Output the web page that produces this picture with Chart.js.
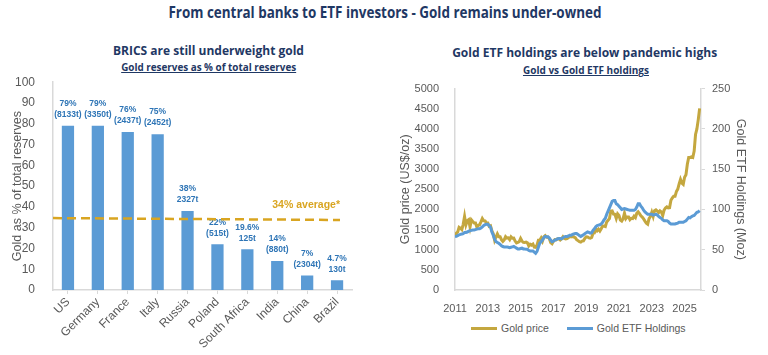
<!DOCTYPE html>
<html><head><meta charset="utf-8">
<script src="https://cdn.jsdelivr.net/npm/chart.js@4.4.1/dist/chart.umd.min.js"></script>
<style>
html,body{margin:0;padding:0;background:#fff;}
body{width:768px;height:355px;position:relative;overflow:hidden;font-family:"Open Sans",sans-serif;}
.t{position:absolute;white-space:nowrap;color:#1F3864;font-weight:700;transform-origin:center center;line-height:1;left:0;top:0;}
.u{text-decoration:underline;}
canvas{position:absolute;}
#legend{position:absolute;left:471px;top:321px;height:14px;display:flex;align-items:center;font-family:"Liberation Sans",sans-serif;font-size:10.5px;color:#595959;white-space:nowrap;}
#legend .item{display:flex;align-items:center;margin-right:18px;}
#legend .swatch{display:inline-block;width:26px;height:3px;margin-right:4px;}
</style></head><body>
<div id="mainTitle" class="t" style="font-size:16px">From central banks to ETF investors - Gold remains under-owned</div>
<div id="lTitle" class="t" style="font-size:12px">BRICS are still underweight gold</div>
<div id="lSub" class="t u" style="font-size:10px">Gold reserves as % of total reserves</div>
<div id="rTitle" class="t" style="font-size:12.5px">Gold ETF holdings are below pandemic highs</div>
<div id="rSub" class="t u" style="font-size:10px">Gold vs Gold ETF holdings</div>
<canvas id="left" width="384" height="290" style="left:0;top:65px;width:384px;height:290px"></canvas>
<canvas id="right" width="384" height="246" style="left:384px;top:74px;width:384px;height:246px"></canvas>
<div id="legend"></div>
<script>
// ---------- Left chart data ----------
const countries = ['US','Germany','France','Italy','Russia','Poland','South Africa','India','China','Brazil'];
const goldSharePct = [79, 79, 76, 75, 38, 22, 19.6, 14, 7, 4.7];
const shareLabels = ['79%','79%','76%','75%','38%','22%','19.6%','14%','7%','4.7%'];
const tonnesLabels = ['(8133t)','(3350t)','(2437t)','(2452t)','2327t','(515t)','125t','(880t)','(2304t)','130t'];
const averageShare = [34.6, 33.7];   // dashed average line, start and end value
const averageLabel = '34% average*';

// ---------- Right chart data (monthly, Jan 2011 - Dec 2025) ----------
const startYear = 2011;
const goldPrice = [
  1340,1410,1440,1555,1535,1500,1630,1825,1620,1720,1745,1565,
  1740,1700,1665,1665,1560,1605,1620,1690,1775,1720,1715,1665,
  1665,1580,1595,1470,1395,1235,1315,1395,1325,1325,1250,1205,
  1245,1325,1290,1295,1250,1320,1285,1290,1215,1170,1185,1200,
  1280,1215,1185,1180,1190,1170,1095,1135,1115,1140,1065,1060,
  1115,1235,1235,1290,1215,1320,1350,1310,1315,1275,1175,1150,
  1210,1250,1245,1270,1270,1240,1270,1320,1280,1270,1275,1300,
  1345,1320,1325,1315,1300,1250,1225,1200,1190,1215,1220,1280,
  1320,1315,1295,1285,1305,1410,1415,1520,1470,1510,1465,1520,
  1590,1585,1575,1690,1730,1770,1960,1965,1885,1880,1775,1890,
  1850,1735,1710,1770,1905,1770,1815,1815,1745,1780,1775,1830,
  1795,1905,1940,1895,1840,1810,1765,1710,1660,1635,1770,1825,
  1930,1825,1970,1990,1960,1920,1965,1940,1850,1985,2035,2065,
  2040,2045,2230,2285,2325,2325,2445,2505,2635,2745,2655,2625,
  2800,2860,3120,3290,3290,3305,3290,3450,3860,4000,4230,4510
];
const etfHoldings = [
  66.5,66.8,67.5,68.5,69,69.5,70,71.5,71.5,72,73,73.5,
  74,74.5,74.5,75,75.5,76,76,77,78.5,80,81,81.5,
  81.5,80,78,72,68,63,60,59,58,56.5,55,54,
  53.5,53.5,53.5,53,52.5,53,53.5,54,53,52,51,51,
  51.5,52,51,51,50.5,50.5,49,48.5,48.5,48.5,47,45.5,
  48,53,58,60,62,65,66.5,66,66,64.5,62,60,
  60.5,62,62.5,63.5,64,64,63.5,65,66,66.5,66.5,67,
  68,68,69,69.5,70,70,69,67.5,66.5,67.5,68.5,70,
  71,72,71.5,70.5,71,74,76,78.5,80,80.5,81,82,
  84,87,89,94,98,102,106,110,111,111,107,106,
  104,102,100,100.5,101,100.5,100,99.5,99,99,99,99,
  100,103,107,107,104,102,99,97,95.5,94,94,94,
  94,93,93.5,94,93,91.5,90,89,87,86,86,86,
  85,83,82,82,82,82,82.5,83,84,84,84,84,
  85,86,88,90,89.5,91,92,92.5,94.5,96.5,97,98.5
];
const tickYears = [2011, 2013, 2015, 2017, 2019, 2021, 2023, 2025];
const seriesNames = ['Gold price', 'Gold ETF Holdings'];

// ---------- Styles ----------
const GREY = '#595959';
const AXIS = '#D9D9D9';
const BLUE = '#5B9BD5';
const GOLD = '#C4A73F';
const LABEL_BLUE = '#2E75B6';
const AVG_GOLD = '#D9A521';
const TICKFONT = 'Liberation Sans';
const seriesColors = [GOLD, BLUE];

function placeTitle(id, cx, cy, w) {
  const el = document.getElementById(id);
  el.style.transform = 'none';
  const r = el.getBoundingClientRect();
  el.style.left = (cx - r.width / 2) + 'px';
  el.style.top = (cy - r.height / 2) + 'px';
  el.style.transform = 'scaleX(' + (w / r.width) + ')';
}
function layoutTitles() {
  placeTitle('mainTitle', 384.5, 12, 433);
  placeTitle('lTitle', 208.5, 51, 191);
  placeTitle('lSub', 208.3, 66.5, 175);
  placeTitle('rTitle', 585, 53.5, 265);
  placeTitle('rSub', 586, 70, 126);
}
layoutTitles();
if (document.fonts && document.fonts.ready) document.fonts.ready.then(layoutTitles);

// HTML legend built from the series names/colours
const legendEl = document.getElementById('legend');
seriesNames.forEach((name, i) => {
  const item = document.createElement('div');
  item.className = 'item';
  const sw = document.createElement('span');
  sw.className = 'swatch';
  sw.style.background = seriesColors[i];
  const tx = document.createElement('span');
  tx.textContent = name;
  item.appendChild(sw);
  item.appendChild(tx);
  legendEl.appendChild(item);
});

const barLabelsPlugin = {
  id: 'barLabels',
  afterDatasetsDraw(chart) {
    const ctx = chart.ctx;
    const meta = chart.getDatasetMeta(0);
    ctx.save();
    ctx.fillStyle = LABEL_BLUE;
    ctx.font = 'bold 8.5px "' + TICKFONT + '"';
    ctx.textAlign = 'center';
    ctx.textBaseline = 'middle';
    meta.data.forEach((bar, i) => {
      ctx.fillText(shareLabels[i], bar.x, bar.y - 22);
      ctx.fillText(tonnesLabels[i], bar.x, bar.y - 11);
    });
    ctx.restore();
  }
};

const averagePlugin = {
  id: 'averageLine',
  afterDatasetsDraw(chart) {
    const {ctx, chartArea, scales} = chart;
    const y = scales.y;
    const x0 = chartArea.left;
    const x1 = chartArea.right - 12;
    const y0 = y.getPixelForValue(averageShare[0]);
    const y1 = y.getPixelForValue(averageShare[1]);
    ctx.save();
    ctx.setLineDash([9, 5]);
    ctx.lineWidth = 2.5;
    ctx.strokeStyle = AVG_GOLD;
    ctx.beginPath();
    ctx.moveTo(x0, y0);
    ctx.lineTo(x1, y1);
    ctx.stroke();
    ctx.setLineDash([]);
    ctx.fillStyle = AVG_GOLD;
    ctx.font = 'bold 10.5px "' + TICKFONT + '"';
    ctx.textAlign = 'right';
    ctx.textBaseline = 'middle';
    ctx.fillText(averageLabel, x1, y1 - 15);
    ctx.restore();
  }
};

new Chart(document.getElementById('left'), {
  type: 'bar',
  data: {
    labels: countries,
    datasets: [{
      data: goldSharePct,
      backgroundColor: BLUE,
      borderWidth: 0,
      barPercentage: 0.82,
      categoryPercentage: 0.5
    }]
  },
  options: {
    responsive: false,
    animation: false,
    devicePixelRatio: 1,
    layout: { padding: { left: 6, right: 32, top: 1, bottom: 0 } },
    plugins: { legend: { display: false }, tooltip: { enabled: false } },
    scales: {
      x: {
        grid: { display: true, drawOnChartArea: false, offset: false, tickLength: 4, color: AXIS },
        border: { color: AXIS, width: 1.5 },
        ticks: { minRotation: 45, maxRotation: 45, color: GREY, padding: 1, font: { family: TICKFONT, size: 12 } },
        afterFit: s => { s.height = 65; }
      },
      y: {
        min: 0, max: 100,
        grid: { display: false },
        border: { color: AXIS, width: 1.5 },
        ticks: { stepSize: 10, color: GREY, padding: 10, font: { family: TICKFONT, size: 12 } },
        title: { display: true, text: 'Gold as % of total reserves', color: GREY, font: { family: TICKFONT, size: 12.5 }, padding: { top: 4, bottom: 4 } },
        afterFit: s => { s.width = 47; }
      }
    }
  },
  plugins: [barLabelsPlugin, averagePlugin]
});

const monthDates = goldPrice.map((_, i) => startYear + i / 12);

new Chart(document.getElementById('right'), {
  type: 'line',
  data: {
    datasets: [
      {
        label: seriesNames[1],
        data: etfHoldings.map((v, i) => ({ x: monthDates[i], y: v })),
        yAxisID: 'y2',
        borderColor: BLUE,
        backgroundColor: BLUE,
        borderWidth: 3,
        pointRadius: 0,
        tension: 0
      },
      {
        label: seriesNames[0],
        data: goldPrice.map((v, i) => ({ x: monthDates[i], y: v })),
        yAxisID: 'y',
        borderColor: GOLD,
        backgroundColor: GOLD,
        borderWidth: 3,
        pointRadius: 0,
        tension: 0
      }
    ]
  },
  options: {
    responsive: false,
    animation: false,
    devicePixelRatio: 1,
    layout: { padding: { left: 10, right: 16, top: 2, bottom: 0 } },
    plugins: {
      tooltip: { enabled: false },
      legend: { display: false }
    },
    scales: {
      x: {
        type: 'linear',
        min: 2011, max: 2026,
        grid: { display: false },
        border: { color: AXIS, width: 1.5 },
        ticks: {
          stepSize: 1, color: GREY, padding: 4, maxRotation: 0, autoSkip: false,
          font: { family: TICKFONT, size: 11 },
          callback: v => (tickYears.includes(v) ? String(v) : null)
        },
        afterFit: s => { s.height = 30; }
      },
      y: {
        position: 'left',
        min: 0, max: 5000,
        grid: { display: false },
        border: { color: AXIS, width: 1.5 },
        ticks: { stepSize: 500, color: GREY, padding: 8, font: { family: TICKFONT, size: 11 }, callback: v => String(v) },
        title: { display: true, text: 'Gold price (US$/oz)', color: GREY, font: { family: TICKFONT, size: 12.5 }, padding: { top: 4, bottom: 4 } },
        afterFit: s => { s.width = 61; }
      },
      y2: {
        position: 'right',
        min: 0, max: 250,
        grid: { display: true, drawOnChartArea: false, tickLength: 4, color: AXIS },
        border: { color: AXIS, width: 1.5 },
        ticks: { stepSize: 50, color: GREY, padding: 7, font: { family: TICKFONT, size: 11 } },
        title: { display: true, text: 'Gold ETF Holdings (Moz)', color: GREY, font: { family: TICKFONT, size: 12.5 }, padding: { top: 4, bottom: 4 } },
        afterFit: s => { s.width = 51; }
      }
    }
  }
});
</script>
</body></html>
